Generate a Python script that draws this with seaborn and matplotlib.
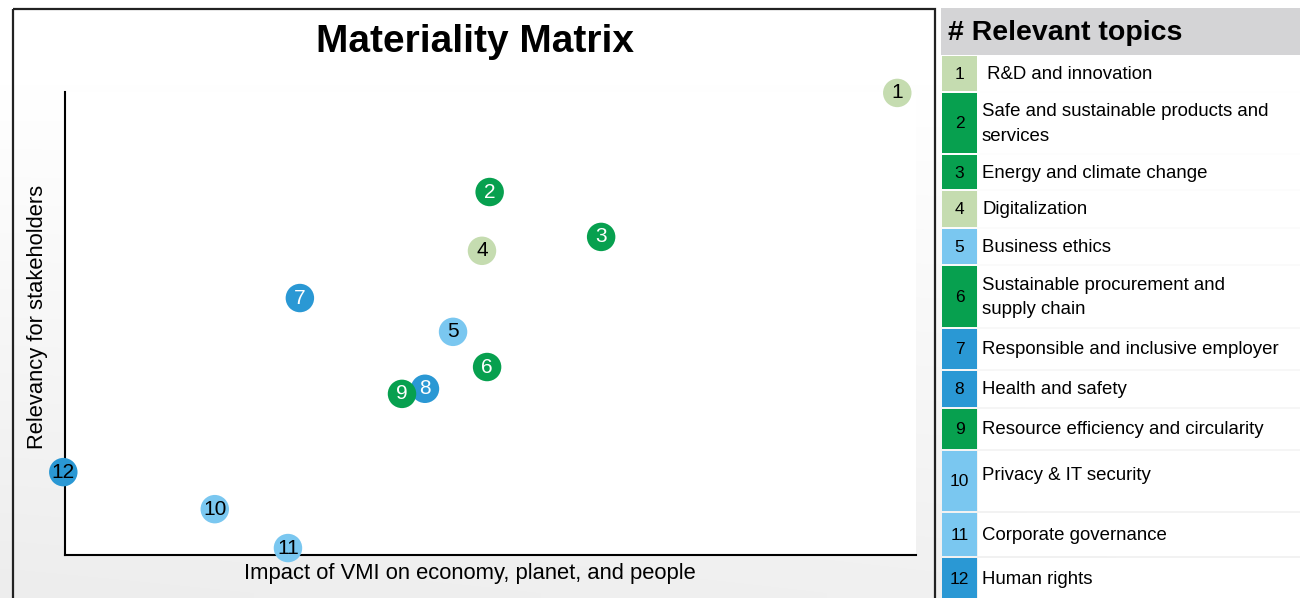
import matplotlib
matplotlib.use("Agg")
import matplotlib.pyplot as plt
import numpy as np
import pandas as pd
import seaborn as sns
from matplotlib.patches import Rectangle

# ---------------- data ----------------
topic_ids = [1, 2, 3, 4, 5, 6, 7, 8, 9, 10, 11, 12]
topic_names = [
    " R&D and innovation",
    "Safe and sustainable products and\nservices",
    "Energy and climate change",
    "Digitalization",
    "Business ethics",
    "Sustainable procurement and\nsupply chain",
    "Responsible and inclusive employer",
    "Health and safety",
    "Resource efficiency and circularity",
    "Privacy & IT security",
    "Corporate governance",
    "Human rights",
]
impact = [97.8, 49.9, 63.0, 49.0, 45.6, 49.6, 27.6, 42.3, 39.6, 17.6, 26.2, -0.2]
relevancy = [99.8, 78.4, 68.7, 65.7, 48.2, 40.6, 55.5, 35.9, 34.8, 9.9, 1.5, 17.9]
group = ["lightgreen", "green", "green", "lightgreen", "lightblue", "green",
         "blue", "blue", "green", "lightblue", "lightblue", "blue"]
label_colors = ["black", "white", "white", "black", "black", "white",
                "white", "white", "white", "black", "black", "black"]

palette = {"lightgreen": "#c5dcb0", "green": "#07a04f",
           "lightblue": "#7ac7f0", "blue": "#2a98d4"}

df = pd.DataFrame({"id": topic_ids, "impact": impact, "relevancy": relevancy,
                   "group": group, "lc": label_colors})

# ---------------- figure ----------------
W, H = 1300, 598
sns.set_style("white")
plt.rcParams["font.family"] = ["Liberation Sans", "DejaVu Sans"]
plt.rcParams["text.color"] = "black"
fig = plt.figure(figsize=(W / 100, H / 100), dpi=100)

# background overlay axes in pixel coordinates
bg = fig.add_axes([0, 0, 1, 1], zorder=0)
bg.set_xlim(0, W)
bg.set_ylim(H, 0)
bg.axis("off")
vy = np.clip((np.linspace(0, 1, 60)[:, None] - 0.15) / 0.85, 0, 1)
vx = np.linspace(1, 0, 60)[None, :]
g = 1 - 0.07 * np.clip(vy * (0.75 + 0.25 * vx), 0, 1)
bg.imshow(np.dstack([g, g, g]), extent=(0, W, H, 0), aspect="auto",
          interpolation="bilinear", zorder=0)
# left panel border
bg.add_patch(Rectangle((13, 9), 922, 600, fill=False, edgecolor="#222222",
                       linewidth=1.6, zorder=2))

# table
row_edges = [8, 55, 92, 154, 190, 228, 265, 328, 370, 408, 450, 512, 557, 600]
bg.add_patch(Rectangle((941, row_edges[0]), W - 941, row_edges[1] - row_edges[0],
                       facecolor="#d4d4d6", edgecolor="none", zorder=3))
bg.text(948, (row_edges[0] + row_edges[1]) / 2 + 1, "# Relevant topics",
        fontsize=20.5, fontweight="bold", va="center", ha="left", zorder=5)
for i, (tid, name, grp) in enumerate(zip(topic_ids, topic_names, group)):
    y0 = row_edges[i + 1] + 1
    y1 = row_edges[i + 2] - 1
    bg.add_patch(Rectangle((942, y0), 35, y1 - y0, facecolor=palette[grp],
                           edgecolor="none", zorder=3))
    bg.add_patch(Rectangle((978, y0), W - 978, y1 - y0, facecolor="white",
                           edgecolor="none", zorder=3))
    yc = (y0 + y1) / 2
    bg.text(959.5, yc + 1, str(tid), fontsize=12.5, ha="center", va="center",
            color="black", zorder=5)
    ty = y0 + 24 if tid == 10 else yc + 1
    bg.text(982, ty, name, fontsize=13.4, ha="left", va="center",
            linespacing=1.55, zorder=5)

# title and axis labels
bg.text(475, 42, "Materiality Matrix", fontsize=28, fontweight="heavy",
        ha="center", va="center", zorder=5)
bg.text(470, 573, "Impact of VMI on economy, planet, and people", fontsize=15.8,
        ha="center", va="center", zorder=5)
bg.text(38, 317, "Relevancy for stakeholders", fontsize=15.8, rotation=90,
        ha="center", va="center", zorder=5)

# ---------------- matrix plot ----------------
ax = fig.add_axes([65 / W, (H - 555) / H, 851 / W, 463 / H], zorder=2)
ax.set_facecolor("white")
sns.scatterplot(data=df, x="impact", y="relevancy", hue="group",
                palette=palette, s=420, edgecolor="none", legend=False,
                ax=ax, clip_on=False, zorder=3)
for _, r in df.iterrows():
    ax.text(r["impact"], r["relevancy"], str(r["id"]), ha="center",
            va="center", fontsize=15, color=r["lc"], zorder=4, clip_on=False)
ax.set_xlim(0, 100)
ax.set_ylim(0, 100)
ax.set_xticks([])
ax.set_yticks([])
ax.set_xlabel("")
ax.set_ylabel("")
for side in ["top", "right"]:
    ax.spines[side].set_visible(False)
for side in ["left", "bottom"]:
    ax.spines[side].set_color("black")
    ax.spines[side].set_linewidth(1.5)
    ax.spines[side].set_zorder(2)

fig.savefig("out.png", dpi=100)
